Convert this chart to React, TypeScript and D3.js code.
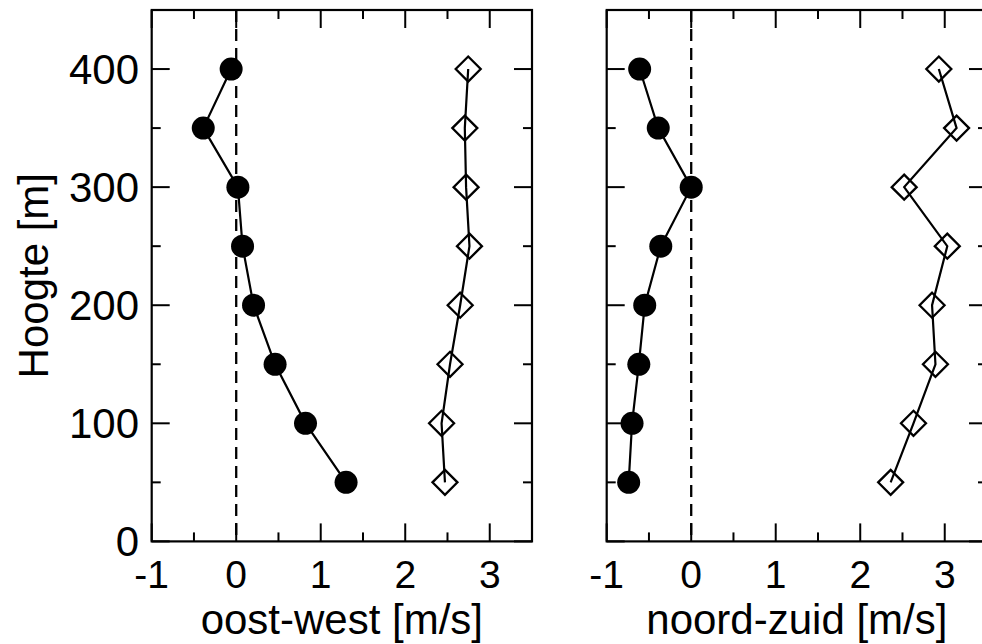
import React from "react";
import * as d3 from "d3";

const heights = [400, 350, 300, 250, 200, 150, 100, 50];
const oostWestFilled = [-0.06, -0.39, 0.02, 0.075, 0.205, 0.46, 0.82, 1.3];
const oostWestOpen = [2.745, 2.705, 2.72, 2.76, 2.65, 2.53, 2.43, 2.47];
const noordZuidFilled = [-0.61, -0.39, 0.0, -0.36, -0.55, -0.62, -0.7, -0.74];
const noordZuidOpen = [2.93, 3.14, 2.52, 3.03, 2.85, 2.89, 2.63, 2.36];
const xTickLabels = [-1, 0, 1, 2, 3];
const yTickLabels = [0, 100, 200, 300, 400];
const panelTitles = ["oost-west [m/s]", "noord-zuid [m/s]"];
const yTitle = "Hoogte [m]";

const W = 982;
const H = 644;
const top = 10;
const bottom = 541.4;
const panelW = 380.3;
const panelLefts = [151.7, 606.7];
const FONT = "'Liberation Sans', Arial, sans-serif";

const y = d3.scaleLinear().domain([0, 450]).range([bottom, top]);

function Panel({ left, filled, open, title, showY }: any) {
  const x = d3.scaleLinear().domain([-1, 3.5]).range([left, left + panelW]);
  const xMinor = d3.range(-1, 3.5001, 0.5);
  const yMinor = d3.range(0, 450.001, 50);
  const line = d3
    .line<number>()
    .x((d) => x(d))
    .y((_, i) => y(heights[i]));
  const r = 11.5;
  const dm = 12.5;
  return (
    <g>
      <line x1={x(0)} x2={x(0)} y1={top} y2={bottom} stroke="#000" strokeWidth={2.3} strokeDasharray="12,7" />
      {xMinor.map((v, i) => {
        const major = Math.abs(v - Math.round(v)) < 1e-6;
        const len = major ? 18 : 9;
        return (
          <g key={"xt" + i}>
            <line x1={x(v)} x2={x(v)} y1={bottom} y2={bottom - len} stroke="#000" strokeWidth={2} />
            <line x1={x(v)} x2={x(v)} y1={top} y2={top + len} stroke="#000" strokeWidth={2} />
          </g>
        );
      })}
      {yMinor.map((v, i) => {
        const major = v % 100 === 0;
        const len = major ? 18 : 9;
        return (
          <g key={"yt" + i}>
            <line x1={left} x2={left + len} y1={y(v)} y2={y(v)} stroke="#000" strokeWidth={2} />
            <line x1={left + panelW} x2={left + panelW - len} y1={y(v)} y2={y(v)} stroke="#000" strokeWidth={2} />
          </g>
        );
      })}
      <rect x={left} y={top} width={panelW} height={bottom - top} fill="none" stroke="#000" strokeWidth={2.2} />
      <path d={line(filled) || ""} fill="none" stroke="#000" strokeWidth={2.2} />
      <path d={line(open) || ""} fill="none" stroke="#000" strokeWidth={2.2} />
      {filled.map((v: number, i: number) => (
        <circle key={"c" + i} cx={x(v)} cy={y(heights[i])} r={r} fill="#000" />
      ))}
      {open.map((v: number, i: number) => {
        const cx = x(v);
        const cy = y(heights[i]);
        return (
          <path
            key={"d" + i}
            d={`M${cx},${cy - dm}L${cx + dm},${cy}L${cx},${cy + dm}L${cx - dm},${cy}Z`}
            fill="none"
            stroke="#000"
            strokeWidth={2.3}
          />
        );
      })}
      {xTickLabels.map((v) => (
        <text key={"xl" + v} x={x(v)} y={588} textAnchor="middle" fontSize={39} fontFamily={FONT}>
          {v}
        </text>
      ))}
      <text x={left + panelW / 2} y={634} textAnchor="middle" fontSize={42} fontFamily={FONT}>
        {title}
      </text>
      {showY &&
        yTickLabels.map((v) => (
          <text key={"yl" + v} x={139} y={y(v) + 15} textAnchor="end" fontSize={42} fontFamily={FONT}>
            {v}
          </text>
        ))}
    </g>
  );
}

export default function App() {
  return (
    <svg width={W} height={H} style={{ position: "absolute", left: 0, top: 0, background: "#fff" }}>
      <rect x={0} y={0} width={W} height={H} fill="#fff" />
      <Panel left={panelLefts[0]} filled={oostWestFilled} open={oostWestOpen} title={panelTitles[0]} showY={true} />
      <Panel left={panelLefts[1]} filled={noordZuidFilled} open={noordZuidOpen} title={panelTitles[1]} showY={false} />
      <text
        transform={`translate(48, ${(top + bottom) / 2}) rotate(-90)`}
        textAnchor="middle"
        fontSize={42}
        fontFamily={FONT}
      >
        {yTitle}
      </text>
    </svg>
  );
}
